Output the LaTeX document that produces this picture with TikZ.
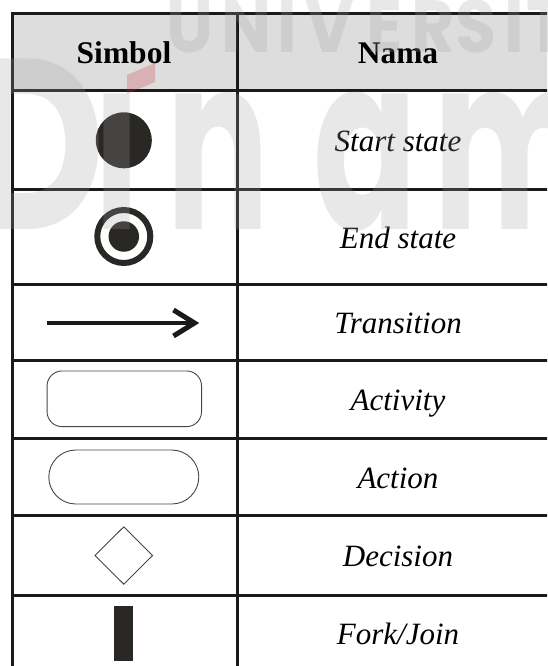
\documentclass[tikz,border=0pt]{standalone}
\usepackage{fontspec}
\setmainfont{Liberation Serif}
\newfontfamily\wmfont{Poppins}
\usetikzlibrary{shapes.geometric}

\definecolor{ink}{RGB}{26,26,26}
\definecolor{headfill}{RGB}{221,221,221}
\definecolor{symfill}{RGB}{42,40,37}
\definecolor{thinline}{RGB}{70,70,70}
\definecolor{wmgray}{RGB}{160,160,160}
\definecolor{wmred}{RGB}{205,40,50}

\begin{document}
\begin{tikzpicture}[x=1pt,y=-1pt,
  rule/.style={draw=ink,line width=3pt},
  headtext/.style={font=\fontsize{31.5}{36}\selectfont\bfseries,anchor=base,inner sep=0pt},
  nametext/.style={font=\fontsize{31}{36}\selectfont\itshape,anchor=base,inner sep=0pt},
  outline/.style={draw=thinline,line width=0.9pt,inner sep=0pt},
  solidsym/.style={fill=symfill,draw=none,inner sep=0pt},
  wmark/.style={text=wmgray,text opacity=0.24,inner sep=0pt,anchor=base},
  wmsmall/.style={wmark,font=\wmfont\bfseries\fontsize{74}{74}\selectfont,xscale=0.9},
  wmbig/.style={wmark,font=\wmfont\bfseries\fontsize{243}{243}\selectfont,xscale=0.63},
]
\useasboundingbox (0,0) rectangle (547,666);
\clip (0,0) rectangle (547,666);

% header shading
\fill[headfill] (12,13.5) rectangle (560,91);

% table rules
\foreach \y in {13.5,91,189.5,284.5,360.5,438.5,515.5,595.5}
  \draw[rule] (10.5,\y) -- (560,\y);
\draw[rule] (12,12) -- (12,670);
\draw[rule] (237,12) -- (237,670);

% header
\node[headtext] (hsym) at (124,63.5) {Simbol};
\node[headtext] (hname) at (398,63.5) {Nama};

% names
\node[nametext] (nstart) at (398,151.5) {Start state};
\node[nametext] (nend) at (398,248.3) {End state};
\node[nametext] (ntrans) at (398,333) {Transition};
\node[nametext] (nact) at (398,410.7) {Activity};
\node[nametext] (naction) at (398,488.3) {Action};
\node[nametext] (ndec) at (398,566.8) {Decision};
\node[nametext] (nfork) at (398,644.5) {Fork/Join};

% symbols
\node[circle,solidsym,minimum size=56pt] (start) at (123.8,140.3) {};
\node[circle,draw=symfill,line width=6pt,minimum size=53pt,inner sep=0pt] (endring) at (123.8,236.5) {};
\node[circle,solidsym,minimum size=30.5pt] (enddot) at (123.8,236.5) {};

\coordinate (tfrom) at (47,323);
\coordinate (tto) at (192,323);
\coordinate (harmA) at (173.5,310);
\coordinate (htip) at (194.5,323);
\coordinate (harmB) at (173.5,336);
\draw[ink,line width=4.3pt] (tfrom) -- (tto);
\draw[ink,line width=5pt] (harmA) -- (htip) -- (harmB);

\node[rectangle,rounded corners=15pt,outline,minimum width=154.5pt,minimum height=55.7pt] (activity) at (124.3,398.8) {};
\node[rectangle,rounded corners=27pt,outline,minimum width=150pt,minimum height=54pt] (action) at (123.8,477) {};
\node[diamond,outline,minimum width=58pt,minimum height=57.7pt] (decision) at (123.8,555.5) {};
\node[rectangle,solidsym,minimum width=18.8pt,minimum height=54.7pt] (fork) at (123.8,633.3) {};

% watermark
\foreach \ch/\cx [count=\k] in {U/190,N/246.5,I/287.5,V/330,E/385,R/433.5,S/475.5,I/514,T/546}
  \node[wmsmall] (wmtop\k) at (\cx,53) {\ch};
\node[wmbig,xscale=1.25] (wmD) at (36,229) {D};
\node[wmbig] (wmi) at (117,229) {\i};
\node[wmbig] (wmn) at (218,229) {n};
\node[wmbig] (wma) at (365,229) {a};
\node[wmbig] (wmm) at (515,229) {m};
\fill[wmred,fill opacity=0.24] (127,75) -- (155,63) -- (155,82) -- (127,94) -- cycle;
\end{tikzpicture}
\end{document}
